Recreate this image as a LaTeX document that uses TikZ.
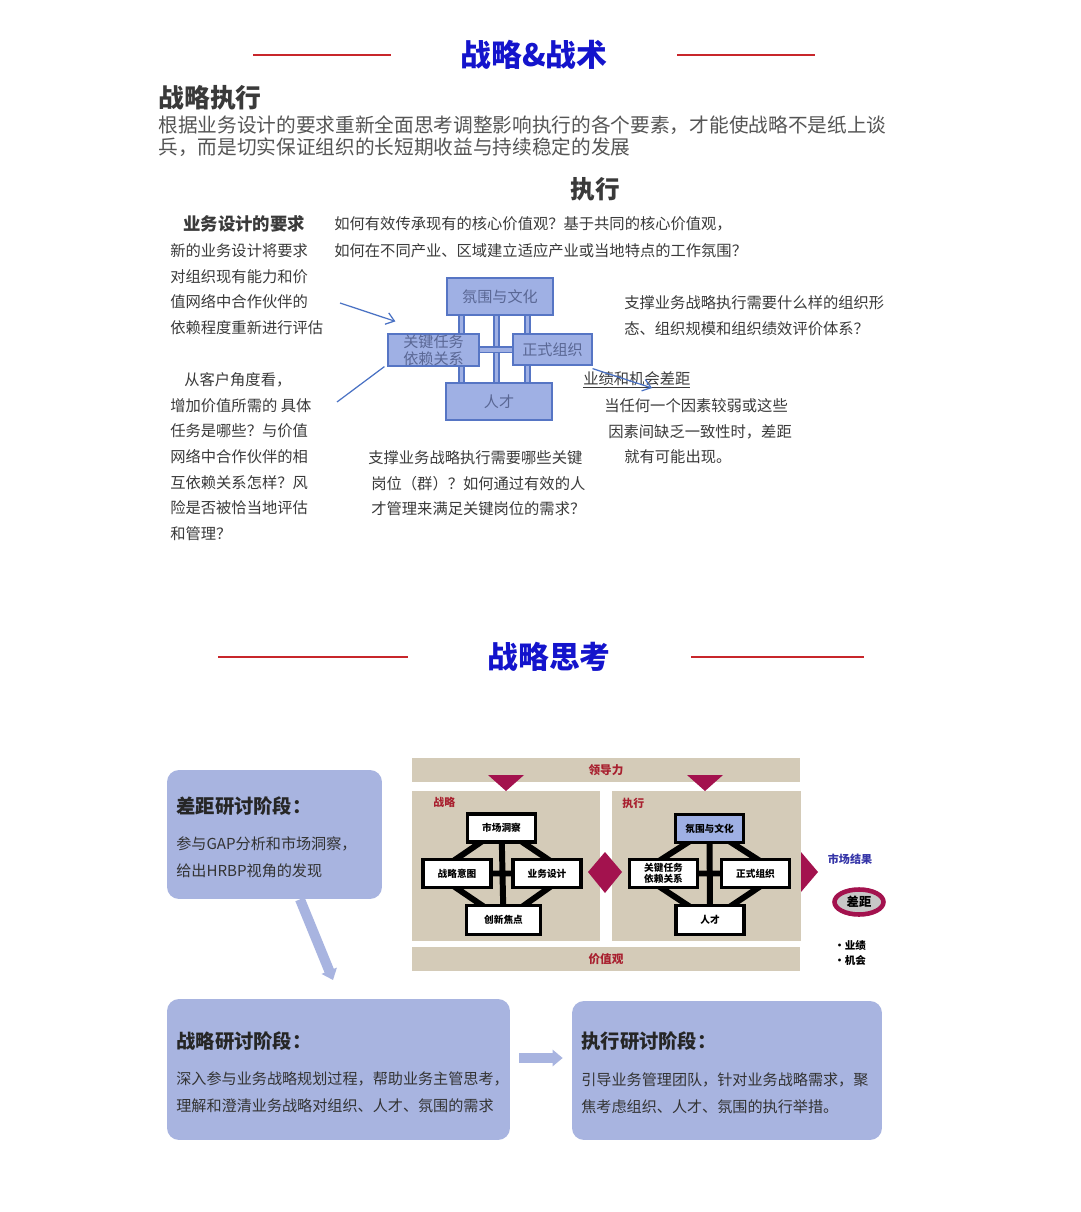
\documentclass[tikz,border=0pt]{standalone}
\usepackage{fontspec}
\setmainfont{Noto Sans CJK SC}
\usetikzlibrary{positioning,arrows.meta,shapes.geometric}
\newcommand\setfs[2]{\fontsize{#1}{#2}\selectfont}
\definecolor{ttlblue}{HTML}{1414CC}
\definecolor{rulered}{HTML}{C8262B}
\definecolor{txtgray}{HTML}{3A3A3A}
\definecolor{paragray}{HTML}{555555}
\definecolor{boxblue}{HTML}{9FB0E4}
\definecolor{edgeblue}{HTML}{5675C4}
\definecolor{inblue}{HTML}{5A6794}
\definecolor{arrblue}{HTML}{4A72C4}
\definecolor{stageblue}{HTML}{A8B4E0}
\definecolor{tan}{HTML}{D4CBB8}
\definecolor{crimson}{HTML}{A3124E}
\definecolor{lblred}{HTML}{A8202F}
\definecolor{resblue}{HTML}{3535A8}
\pgfdeclarelayer{bg}
\pgfdeclarelayer{mid}
\pgfsetlayers{bg,mid,main}

\begin{document}
\begin{tikzpicture}[x=0.02cm, y=-0.02cm,
    ttl/.style={font=\bfseries\setfs{17.5}{20}, text=ttlblue, inner sep=0},
    rule/.style={rulered, line width=0.05cm},
    txt/.style={font=\setfs{8.7}{14.6}, text=txtgray, align=left, anchor=north west, inner sep=0},
    ubox/.style={draw=edgeblue, fill=boxblue, text=inblue, font=\setfs{8.6}{9.6}, inner sep=0, align=center, line width=0.7pt},
    cbar/.style={draw=edgeblue, fill=boxblue, line width=0.7pt},
    uarr/.style={arrblue, line width=0.7pt, -{Straight Barb[length=1.6mm, width=2.4mm]}},
    band/.style={fill=tan, inner sep=0},
    wbox/.style={draw=black, fill=white, line width=2.2pt, font=\bfseries\setfs{5.5}{6}, inner sep=0, align=center, minimum width=1.36cm, minimum height=0.56cm},
    blk/.style={black, line width=3.4pt},
    redlbl/.style={text=lblred, font=\bfseries\setfs{6.6}{8}, inner sep=0},
    stage/.style={fill=stageblue, rounded corners=0.24cm, inner sep=0},
    stghead/.style={font=\bfseries\setfs{11}{12}, text=black!85, anchor=west, inner sep=0},
    stgtxt/.style={font=\setfs{8.6}{15.3}, text=black!80, align=left, anchor=north west, inner sep=0},
    stgarr/.style={stageblue, line width=0.2cm, -{Triangle[length=0.2cm, width=0.32cm]}}
]
\useasboundingbox (0,0) rectangle (1080,1212);
\begin{pgfonlayer}{bg}
\fill[white] (0,0) rectangle (1080,1212);
\end{pgfonlayer}

% Section 1 - title and intro
\node[ttl] (ttltop) at (534,55) {战略\&战术};
\draw[rule] (253,55) -- (391,55);
\draw[rule] (677,55) -- (815,55);
\node[font=\bfseries\setfs{14.7}{16}, text=txtgray, anchor=west, inner sep=0] (exehead) at (158,98) {战略执行};
\node[txt, font=\setfs{11.2}{13}, text=paragray] (intro) at (158,115) {根据业务设计的要求重新全面思考调整影响执行的各个要素，才能使战略不是纸上谈\\兵，而是切实保证组织的长短期收益与持续稳定的发展};
\node[font=\bfseries\setfs{14}{16}, text=txtgray, inner sep=0] (exesub) at (595,189) {执行};

% Text around the execution model
\node[font=\bfseries\setfs{9.9}{11}, text=txtgray, anchor=west, inner sep=0] (reqhead) at (183,224) {业务设计的要求};
\node[txt] (reqtxt) at (170,243.3) {新的业务设计将要求\\对组织现有能力和价\\值网络中合作伙伴的\\依赖程度重新进行评估};
\node[txt] (custtxt) at (170,372.3) {\hspace*{0.28cm}从客户角度看，\\增加价值所需的 具体\\任务是哪些？与价值\\网络中合作伙伴的相\\互依赖关系怎样？风\\险是否被恰当地评估\\和管理？};
\node[txt, font=\setfs{8.7}{15.3}] (valtxt) at (334,216.3) {如何有效传承现有的核心价值观？基于共同的核心价值观，\\如何在不同产业、区域建立适应产业或当地特点的工作氛围？};
\node[txt] (orgtxt) at (624,295.3) {支撑业务战略执行需要什么样的组织形\\态、组织规模和组织绩效评价体系？};
\node[font=\setfs{8.7}{10}, text=txtgray, anchor=west, inner sep=0] (gaphead) at (583,380) {\underline{业绩和机会差距}};
\node[txt] (gaptxt) at (604,398.3) {当任何一个因素较弱或这些\\\hspace*{0.08cm}因素间缺乏一致性时，差距\\\hspace*{0.4cm}就有可能出现。};
\node[txt] (taltxt) at (368,450.3) {支撑业务战略执行需要哪些关键\\\hspace*{0.06cm}岗位（群）？如何通过有效的人\\\hspace*{0.06cm}才管理来满足关键岗位的需求？};

% Execution model - four blue blocks
\node[ubox, minimum width=2.12cm, minimum height=0.74cm] (clim) at (500,296.5) {氛围与文化};
\node[ubox, minimum width=1.82cm, minimum height=0.64cm] (ctask) at (433.5,350) {关键任务\\依赖关系};
\node[ubox, minimum width=1.58cm, minimum height=0.62cm] (corg) at (552.5,349.5) {正式组织};
\node[ubox, minimum width=2.12cm, minimum height=0.74cm] (ctal) at (499,401.5) {人才};
\begin{pgfonlayer}{mid}
\foreach \dx in {-38,-3,28}
    \draw[cbar] ([xshift=(\dx-3)*0.02cm]clim.south) rectangle ([xshift=(\dx+3)*0.02cm]ctal.north);
\draw[cbar] ([yshift=0.06cm]ctask.east) rectangle ([yshift=-0.06cm]corg.west);
\end{pgfonlayer}

% Pointers
\coordinate (reqtip) at (340,303);
\coordinate (custtip) at (337,402);
\coordinate (gaptip) at (652,388);
\draw[uarr] (reqtip) -- ([xshift=0.16cm, yshift=0.24cm]ctask.north west);
\draw[arrblue, line width=0.7pt] (custtip) -- ([xshift=-0.06cm]ctask.south west);
\draw[uarr] ([yshift=-0.06cm]corg.south east) -- (gaptip);

% Section 2 - title
\node[ttl] (ttlbot) at (549,657) {战略思考};
\draw[rule] (218,657) -- (408,657);
\draw[rule] (691,657) -- (864,657);

% Leadership model
\node[band, minimum width=7.76cm, minimum height=0.48cm, redlbl] (lead) at (606,770) {领导力};
\node[band, minimum width=7.76cm, minimum height=0.48cm, redlbl] (vals) at (606,959) {价值观};
\begin{pgfonlayer}{bg}
\node[band, minimum width=3.76cm, minimum height=3.0cm] (spanel) at (506,866) {};
\node[band, minimum width=3.78cm, minimum height=3.0cm] (xpanel) at (706.5,866) {};
\end{pgfonlayer}
\node[redlbl, font=\bfseries\setfs{6.2}{7}, anchor=west] (slbl) at (433,802) {战略};
\node[redlbl, font=\bfseries\setfs{6.2}{7}, anchor=west] (xlbl) at (622,803) {执行};

% strategy boxes
\node[wbox] (smkt) at (501.5,828) {市场洞察};
\node[wbox] (sint) at (457,873.5) {战略意图};
\node[wbox] (sdes) at (547,873.5) {业务设计};
\node[wbox, minimum width=1.48cm, minimum height=0.58cm] (sinn) at (503.5,920) {创新焦点};
% execution boxes
\node[wbox, fill=boxblue] (xclim) at (709.5,828.5) {氛围与文化};
\node[wbox] (xtask) at (663.5,873.5) {关键任务\\依赖关系};
\node[wbox] (xorg) at (755.5,873.5) {正式组织};
\node[wbox, minimum height=0.58cm] (xtal) at (710,920) {人才};
\begin{pgfonlayer}{mid}
\draw[blk] (smkt.center) -- ([xshift=-0.44cm]sint.center) -- (sinn.center) -- ([xshift=0.44cm]sdes.center) -- cycle;
\draw[blk] (smkt.center) -- (sinn.center) (sint.center) -- (sdes.center);
\draw[blk] (xclim.center) -- ([xshift=-0.48cm]xtask.center) -- (xtal.center) -- ([xshift=0.48cm]xorg.center) -- cycle;
\draw[blk] (xclim.center) -- (xtal.center) (xtask.center) -- (xorg.center);
\end{pgfonlayer}

% crimson markers
\foreach \x in {506,705}
    \fill[crimson] (\x-18,775) -- (\x+18,775) -- (\x,791) -- cycle;
\fill[crimson] (588,872) -- (605,852) -- (622,872) -- (605,893) -- cycle;
\fill[crimson] (801,852) -- (818,872) -- (801,892) -- cycle;

% market result
\node[font=\bfseries\setfs{6.3}{7}, text=resblue, inner sep=0] (mres) at (850,859) {市场结果};
\node[ellipse, draw=crimson, fill=black!22, line width=2.6pt, minimum width=0.98cm, minimum height=0.5cm, inner sep=0, font=\bfseries\setfs{7}{8}] (gapell) at (859,902) {差距};
\node[font=\bfseries\setfs{6}{8.5}, align=left, anchor=north west, inner sep=0] (perf) at (834,940.5) {·业绩\\·机会};

% Workshop stages
\node[stage, minimum width=4.3cm, minimum height=2.58cm] (gapbox) at (274.5,834.5) {};
\node[stage, minimum width=6.86cm, minimum height=2.82cm] (stratbox) at (338.5,1069.5) {};
\node[stage, minimum width=6.2cm, minimum height=2.78cm] (execbox) at (727,1070.5) {};
\node[stghead] (gaphd) at (176,806) {差距研讨阶段：};
\node[stgtxt] (gapbd) at (176,836.5) {参与GAP分析和市场洞察，\\给出HRBP视角的发现};
\node[stghead] (strathd) at (176,1041) {战略研讨阶段：};
\node[stgtxt] (stratbd) at (176,1071.5) {深入参与业务战略规划过程，帮助业务主管思考，\\理解和澄清业务战略对组织、人才、氛围的需求};
\node[stghead] (exechd) at (581,1041) {执行研讨阶段：};
\node[stgtxt] (execbd) at (581,1072.5) {引导业务管理团队，针对业务战略需求，聚\\焦考虑组织、人才、氛围的执行举措。};

\coordinate (gapend) at (333,980);
\draw[stgarr] ([xshift=0.51cm]gapbox.south) -- (gapend);
\draw[stgarr] ([xshift=0.18cm, yshift=0.23cm]stratbox.east) -- ([xshift=-0.18cm, yshift=0.25cm]execbox.west);

\end{tikzpicture}
\end{document}
